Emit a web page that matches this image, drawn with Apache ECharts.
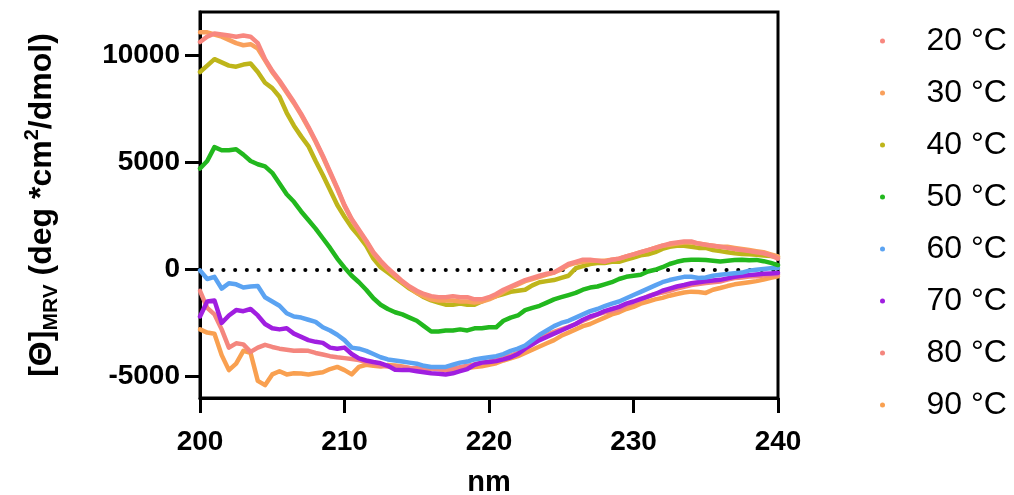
<!DOCTYPE html>
<html>
<head>
<meta charset="utf-8">
<script src="https://cdn.jsdelivr.net/npm/echarts@6/dist/echarts.min.js"></script>
<style>
  html, body { margin: 0; padding: 0; background: #fff; }
  #chart { width: 1014px; height: 495px; }
</style>
</head>
<body>
<div id="chart"></div>
<script>
// wavelength grid, 200 -> 240 nm in 0.5 nm steps (81 points)
const nm = Array.from({ length: 81 }, (_, i) => 200 + i * 0.5);

const names = ['20 °C', '30 °C', '40 °C', '50 °C', '60 °C', '70 °C', '80 °C', '90 °C'];
const colors = ['#F8877F', '#F9A05C', '#BEB51A', '#22B81E', '#5BA3F2', '#A01EE0', '#F4867E', '#F9A050'];

const t20 = [10600, 10850, 11000, 10950, 10900, 10850, 10900, 10850, 10550, 9800,
  9250, 8800, 8300, 7800, 7250, 6650, 6000, 5300, 4550, 3800,
  3000, 2350, 1850, 1350, 800, 400, 50, -250, -550, -800,
  -1000, -1150, -1250, -1300, -1300, -1250, -1300, -1300, -1400, -1400,
  -1300, -1150, -950, -800, -650, -500, -400, -300, -200, -150,
  50, 250, 350, 450, 450, 400, 350, 450, 500, 600,
  700, 800, 900, 1000, 1100, 1200, 1250, 1300, 1300, 1200,
  1150, 1100, 1050, 1000, 950, 900, 850, 800, 750, 650, 500];

const t30 = [11050, 11050, 10950, 10850, 10700, 10550, 10450, 10500, 10300, 9750,
  9200, 8750, 8250, 7750, 7200, 6600, 5950, 5250, 4500, 3750,
  2950, 2300, 1800, 1300, 750, 350, 0, -300, -600, -850,
  -1100, -1250, -1400, -1450, -1450, -1450, -1500, -1500, -1550, -1500,
  -1400, -1250, -1050, -850, -700, -550, -450, -350, -250, -150,
  0, 200, 300, 350, 400, 400, 400, 450, 500, 600,
  700, 800, 900, 1000, 1100, 1150, 1200, 1250, 1250, 1200,
  1150, 1100, 1050, 1050, 1000, 950, 900, 850, 800, 700, 600];

const t40 = [9200, 9500, 9800, 9650, 9500, 9450, 9550, 9600, 9200, 8700,
  8450, 8050, 7300, 6700, 6200, 5750, 5050, 4400, 3700, 3000,
  2450, 1950, 1550, 1100, 500, 100, -150, -400, -650, -900,
  -1100, -1300, -1450, -1550, -1650, -1650, -1600, -1650, -1650, -1500,
  -1350, -1250, -1150, -1050, -1000, -950, -750, -600, -550, -500,
  -400, -300, 50, 150, 250, 300, 300, 350, 350, 450,
  550, 650, 700, 800, 950, 1050, 1100, 1100, 1050, 1000,
  1000, 900, 850, 800, 750, 720, 700, 680, 650, 620, 580];

const t50 = [4700, 5050, 5700, 5550, 5550, 5600, 5350, 5050, 4900, 4800,
  4500, 4000, 3500, 3150, 2700, 2300, 1900, 1450, 1000, 500,
  80, -300, -600, -950, -1350, -1650, -1850, -2000, -2100, -2250,
  -2400, -2650, -2900, -2900, -2850, -2850, -2800, -2850, -2750, -2750,
  -2700, -2700, -2400, -2250, -2150, -1900, -1800, -1700, -1550, -1400,
  -1300, -1200, -1100, -950, -850, -800, -700, -600, -450, -350,
  -300, -250, -100, -20, 100, 250, 350, 420, 450, 450,
  430, 400, 370, 400, 430, 450, 420, 440, 380, 300, 200];

const t60 = [-50, -450, -350, -900, -650, -700, -850, -800, -780, -1300,
  -1500, -1700, -2050, -2200, -2250, -2350, -2450, -2700, -2850, -3050,
  -3300, -3650, -3700, -3800, -3950, -4100, -4200, -4250, -4300, -4350,
  -4400, -4500, -4550, -4550, -4550, -4450, -4350, -4300, -4200, -4150,
  -4100, -4050, -3950, -3800, -3700, -3550, -3300, -3050, -2850, -2650,
  -2500, -2400, -2250, -2100, -1950, -1850, -1720, -1600, -1500, -1350,
  -1200, -1050, -900, -750, -600, -500, -420, -350, -350, -400,
  -380, -300, -250, -220, -180, -150, -60, -20, 20, 50, 60];

const t70 = [-2200, -1500, -1450, -2500, -2150, -1900, -1950, -1850, -2150, -2550,
  -2750, -2800, -2750, -3000, -3150, -3300, -3380, -3430, -3650, -3700,
  -3650, -3950, -4150, -4250, -4320, -4380, -4500, -4680, -4700, -4700,
  -4750, -4800, -4850, -4870, -4900, -4850, -4750, -4650, -4450, -4350,
  -4320, -4280, -4200, -4100, -3950, -3700, -3500, -3300, -3150, -3000,
  -2850, -2700, -2550, -2350, -2200, -2100, -1950, -1850, -1750, -1600,
  -1500, -1380, -1270, -1150, -1000, -900, -800, -730, -650, -600,
  -560, -520, -490, -420, -350, -300, -270, -240, -210, -190, -170];

const t80 = [-1000, -1800, -2100, -2800, -3650, -3450, -3500, -3850, -3650, -3520,
  -3620, -3700, -3750, -3800, -3780, -3800, -3900, -3970, -4050, -4100,
  -4140, -4180, -4230, -4320, -4400, -4500, -4530, -4530, -4560, -4600,
  -4610, -4620, -4620, -4650, -4690, -4630, -4560, -4500, -4430, -4370,
  -4300, -4220, -4100, -4020, -3900, -3700, -3500, -3250, -3050, -2920,
  -2800, -2680, -2550, -2400, -2250, -2100, -2000, -1950, -1880, -1700,
  -1550, -1420, -1250, -1150, -1080, -1000, -900, -810, -730, -680,
  -640, -600, -570, -480, -410, -380, -340, -320, -290, -270, -250];

const t90 = [-2800, -2950, -3000, -4000, -4700, -4400, -3800, -3900, -5200, -5400,
  -4900, -4750, -4900, -4850, -4860, -4900, -4850, -4800, -4650, -4550,
  -4700, -4900, -4550, -4450, -4500, -4530, -4460, -4480, -4530, -4600,
  -4690, -4650, -4610, -4650, -4690, -4650, -4610, -4600, -4560, -4520,
  -4450, -4380, -4250, -4150, -4050, -3900, -3750, -3600, -3450, -3300,
  -3100, -2950, -2800, -2650, -2550, -2400, -2250, -2100, -2000, -1850,
  -1750, -1600, -1500, -1400, -1330, -1230, -1150, -1080, -1040, -1060,
  -1100, -950, -870, -780, -700, -650, -600, -550, -480, -400, -330];

const seriesValues = [t20, t30, t40, t50, t60, t70, t80, t90];

const xTicks = [200, 210, 220, 230, 240];
const yTicks = [-5000, 0, 5000, 10000];

const font = 'Liberation Sans, Arial, sans-serif';
const chart = echarts.init(document.getElementById('chart'));

const series = seriesValues.map((vals, i) => ({
  name: names[i],
  type: 'line',
  data: vals.map((v, j) => [nm[j], v]),
  showSymbol: false,
  symbol: 'circle',
  z: 20 - i,
  itemStyle: { color: colors[i] },
  lineStyle: { color: colors[i], width: 4.5, cap: 'round', join: 'round' }
}));

// dotted zero line
series.push({
  type: 'line',
  data: [],
  z: 1,
  markLine: {
    silent: true,
    symbol: 'none',
    label: { show: false },
    lineStyle: { color: '#000', width: 4, type: [0.1, 11.6], cap: 'round' },
    data: [{ yAxis: 0 }]
  }
});

const option = {
  animation: false,
  textStyle: { fontFamily: font },
  grid: {
    left: 200, right: 236, top: 12, bottom: 97,
    outerBoundsMode: 'none',
    show: true, borderColor: '#000', borderWidth: 3
  },
  legend: {
    orient: 'vertical',
    left: 875,
    top: 20,
    itemWidth: 78,
    itemHeight: 5,
    itemGap: 20,
    icon: 'circle',
    data: names,
    textStyle: { fontSize: 32, color: '#000', lineHeight: 30, fontFamily: font }
  },
  xAxis: {
    type: 'value',
    min: 200,
    max: 240,
    interval: 10,
    axisLine: { show: true, onZero: false, lineStyle: { color: '#000', width: 3 } },
    axisTick: { show: true, length: 15, lineStyle: { color: '#000', width: 3 }, customValues: xTicks },
    axisLabel: { color: '#000', fontSize: 28, fontWeight: 'bold', margin: 30, fontFamily: font, customValues: xTicks },
    splitLine: { show: false },
    name: 'nm',
    nameLocation: 'middle',
    nameGap: 70,
    nameTextStyle: { color: '#000', fontSize: 29, fontWeight: 'bold', fontFamily: font }
  },
  yAxis: {
    type: 'value',
    min: -6000,
    max: 12000,
    axisLine: { show: true, onZero: false, lineStyle: { color: '#000', width: 3 } },
    axisTick: { show: true, length: 15, lineStyle: { color: '#000', width: 3 }, customValues: yTicks },
    axisLabel: {
      color: '#000', fontSize: 28, fontWeight: 'bold', margin: 20, fontFamily: font,
      customValues: yTicks,
      formatter: v => String(v)
    },
    splitLine: { show: false },
    name: '[Θ]{sub|MRV} (deg *cm{sup|2}/dmol)',
    nameLocation: 'middle',
    nameRotate: 90,
    nameGap: 138,
    nameTextStyle: {
      color: '#000', fontSize: 32, fontWeight: 'bold', fontFamily: font, lineHeight: 40,
      rich: {
        sub: { fontSize: 21, fontWeight: 'bold', fontFamily: font, color: '#000', verticalAlign: 'bottom', lineHeight: 22 },
        sup: { fontSize: 20, fontWeight: 'bold', fontFamily: font, color: '#000', verticalAlign: 'top', lineHeight: 22 }
      }
    }
  },
  series: series
};

chart.setOption(option);
</script>
</body>
</html>
